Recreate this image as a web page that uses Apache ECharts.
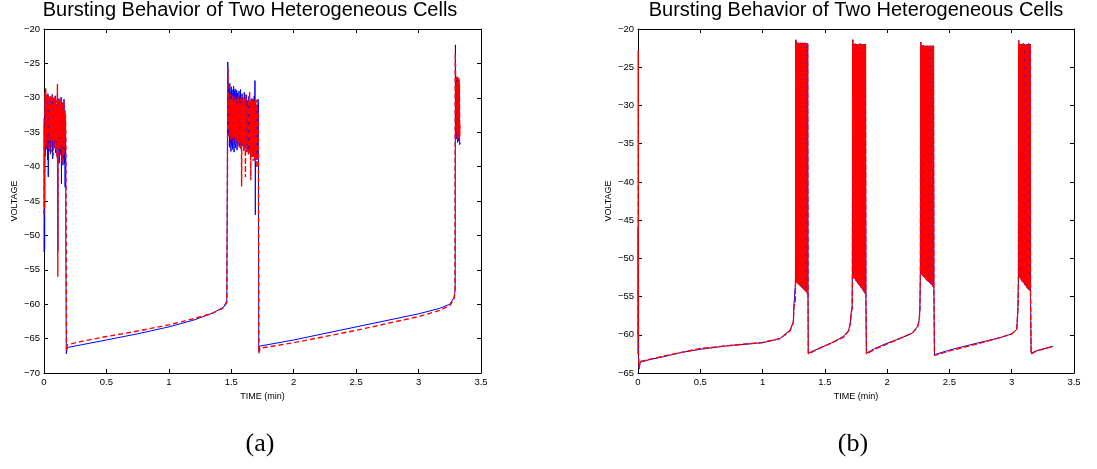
<!DOCTYPE html>
<html lang="en">
<head>
    <meta charset="UTF-8">
    <title>Bursting Behavior of Two Heterogeneous Cells</title>
    <script src="https://cdn.jsdelivr.net/npm/echarts@6/dist/echarts.min.js"></script>
    <style>
        html, body { margin: 0; padding: 0; background: #fff; }
        #main { width: 1097px; height: 469px; }
    </style>
</head>
<body>
<div id="main"></div>
<script type="text/javascript">
  // axis ranges [min, max, interval]
  var xRange = [0, 3.5, 0.5];
  var aYRange = [-70, -20, 5];
  var bYRange = [-65, -20, 5];

  /* ---------- panel (a) ---------- */
  // slow parts [time, voltage]
  var aBlueSlow = [[0, -52.4], [0.175, -51.0], [0.179, -67.2], [0.186, -66.3], [0.3, -65.9], [0.5, -65.2], [0.75, -64.3],
    [1.0, -63.3], [1.2, -62.3], [1.35, -61.3], [1.44, -60.4], [1.464, -59.5], [1.472, -24.8],
    [1.72, -66.9], [1.726, -66.1], [2.0, -65.2], [2.5, -63.3], [3.0, -61.4], [3.17, -60.6], [3.25, -60.0],
    [3.285, -59.0], [3.293, -57.9], [3.295, -22.3], [3.332, -36.5]];
  var aRedSlow = [[0, -47.0], [0.18, -66.8], [0.186, -65.9], [0.3, -65.4], [0.5, -64.7], [0.75, -63.9],
    [1.0, -63.0], [1.2, -62.1], [1.35, -61.3], [1.44, -60.5], [1.465, -59.7], [1.473, -25.5],
    [1.721, -67.2], [1.73, -66.4], [2.0, -65.6], [2.5, -63.8], [3.0, -61.8], [3.17, -60.9], [3.25, -60.2],
    [3.285, -59.2], [3.292, -58.0], [3.294, -23.5], [3.332, -34.0]];
  // burst spans and their upper / lower swings
  var aBurstSpans = [[0.002, 0.172], [1.476, 1.714], [3.297, 3.327]];
  var aBlueHi = [
    [-33, -30.2, -29.6, -31, -30, -29.4, -31.5, -30.3, -29.8, -32, -30.6, -29.5, -31.2, -30, -30.8, -29.7, -32.5, -30.9, -29.4, -31.4, -30.1, -31.8, -30.5, -29.9, -32.2, -30.7, -31.5, -30.2, -31.8, -32.5],
    [-28.2, -28.6, -27.9, -29.1, -28.4, -28.8, -29.5, -28.3, -29.0, -28.7, -29.6, -28.9, -29.3, -30.1, -29.0, -29.7, -28.8, -30.3, -29.4, -29.9, -30.5, -29.2, -30.0, -30.8, -29.6, -30.4, -31.0, -29.8, -30.6, -31.2, -30.1, -30.9, -31.4, -30.3, -29.7, -27.5, -30.8, -31.5, -31.0, -30.2],
    [-22.3, -27.5, -27.0, -27.8, -27.2, -28.0, -27.4, -28.3]
  ];
  var aBlueLo = [
    [-52, -38.5, -36.8, -37.5, -39.0, -41.5, -37.8, -36.5, -38.2, -37, -36.4, -38.9, -37.6, -37.3, -36.6, -38, -37.2, -38.4, -52.3, -37, -39.5, -36.8, -38.3, -42.5, -37.5, -39.8, -38.8, -39.6, -43, -40],
    [-35.5, -37.2, -36.4, -37.8, -36.9, -37.5, -36.2, -37.9, -36.8, -37.3, -36.5, -37.6, -36.9, -36.3, -37.1, -36.6, -37.4, -36.8, -37.0, -36.4, -37.7, -36.9, -37.3, -37.8, -36.9, -37.5, -38.2, -37.4, -37.9, -38.4, -37.6, -38.1, -38.6, -38.0, -39.0, -47.0, -38.5, -39.0, -38.2, -31.0],
    [-33, -36.0, -35.2, -36.5, -35.8, -36.3, -35.5, -36.8]
  ];
  var aRedHi = [
    [-34, -29.2, -28.6, -30.3, -29.5, -30.8, -29.6, -30.2, -31, -29.8, -30.4, -29.5, -31.2, -30, -30.6, -29.9, -31.4, -30.3, -28, -30.9, -30.2, -31.5, -30.4, -29.9, -31.7, -30.8, -31.3, -30.5, -31.9, -32.4],
    [-30.5, -29.8, -30.6, -29.4, -30.9, -30.1, -29.7, -31.0, -30.3, -29.9, -30.7, -30.2, -31.2, -29.8, -30.5, -31.0, -30.1, -30.8, -29.6, -30.4, -31.1, -30.0, -30.7, -29.5, -30.9, -31.3, -30.2, -30.8, -29.0, -31.0, -30.5, -31.4, -30.1, -30.9, -30.4, -30.6, -31.2, -30.3, -31.0, -32.0],
    [-23.5, -27.0, -27.6, -26.9, -27.8, -27.3, -27.1, -28.0]
  ];
  var aRedLo = [
    [-46, -36.8, -35.6, -37.2, -36.1, -35.4, -37.6, -36.3, -35.8, -37.9, -36.5, -35.7, -38.4, -36.9, -36.2, -37.5, -36.4, -38.8, -56, -37.1, -36.5, -38.2, -36.9, -37.6, -39.4, -37, -38.5, -38, -37.2, -36],
    [-34.8, -35.6, -35.1, -36.2, -35.4, -35.9, -36.5, -35.3, -36.0, -36.8, -35.7, -36.4, -37.1, -36.0, -36.7, -37.3, -36.4, -42.9, -37.0, -36.6, -37.6, -36.9, -41.5, -37.3, -38.0, -37.2, -38.4, -37.7, -38.1, -42.0, -37.9, -38.6, -39.2, -38.3, -38.9, -39.5, -38.6, -40.2, -39.0, -38.0],
    [-32, -35.0, -35.8, -34.9, -36.1, -35.4, -35.9, -35.6]
  ];

  /* ---------- panel (b) ---------- */
  var bBlueSlow = [[0, -62.6], [0.0015, -46.0], [0.004, -62.8], [0.008, -64.5], [0.018, -63.6], [0.1, -63.2], [0.2, -62.9],
    [0.35, -62.3], [0.5, -61.9], [0.74, -61.4], [1.0, -61.05], [1.14, -60.5], [1.22, -59.4], [1.247, -58.3],
    [1.252, -56.1], [1.262, -55.9], [1.265, -53.1],
    [1.367, -62.4], [1.45, -61.8], [1.55, -61.1], [1.65, -60.2], [1.69, -59.5], [1.705, -58.4], [1.712, -57.0],
    [1.719, -56.6], [1.721, -52.4],
    [1.834, -62.4], [1.9, -61.8], [2.0, -61.1], [2.1, -60.5], [2.2, -59.8], [2.245, -58.9], [2.258, -58.0],
    [2.263, -56.6], [2.267, -52.0],
    [2.38, -62.6], [2.5, -62.0], [2.72, -61.1], [2.9, -60.4], [3.0, -59.9], [3.04, -59.3], [3.048, -57.3],
    [3.051, -56.0], [3.054, -52.4],
    [3.156, -62.4], [3.2, -62.1], [3.333, -61.5]];
  var bRedSlow = [[0, -60.0], [0.0015, -22.8], [0.004, -62.6], [0.008, -64.3], [0.018, -63.5], [0.1, -63.2], [0.2, -62.8],
    [0.35, -62.3], [0.5, -61.8], [0.74, -61.4], [1.0, -61.0], [1.14, -60.5], [1.22, -59.5], [1.247, -58.4],
    [1.252, -56.2], [1.262, -55.8], [1.265, -53.0],
    [1.367, -62.5], [1.45, -61.8], [1.55, -61.1], [1.65, -60.3], [1.69, -59.5], [1.705, -58.5], [1.712, -57.1],
    [1.719, -56.5], [1.721, -52.5],
    [1.834, -62.5], [1.9, -61.9], [2.0, -61.2], [2.1, -60.5], [2.2, -59.8], [2.245, -59.0], [2.258, -58.0],
    [2.263, -56.5], [2.267, -52.1],
    [2.38, -62.7], [2.5, -62.1], [2.72, -61.2], [2.9, -60.4], [3.0, -59.9], [3.04, -59.3], [3.048, -57.2],
    [3.051, -56.0], [3.054, -52.5],
    [3.156, -62.5], [3.2, -62.1], [3.333, -61.5]];
  var bBurstSpans = [[1.268, 1.362], [1.724, 1.826], [2.27, 2.372], [3.056, 3.148]];
  var bHi = [
    [-21.4, -21.8, -21.9, -21.8, -21.9, -21.9, -21.8, -21.9, -21.9, -21.8, -21.9, -21.9, -21.8, -21.9, -21.9, -21.9],
    [-21.4, -22.0, -22.0, -21.9, -22.0, -22.0, -22.1, -22.0, -22.0, -21.9, -22.0, -22.0, -22.1, -22.0, -22.0, -22.0],
    [-21.7, -22.2, -22.2, -22.1, -22.2, -22.3, -22.2, -22.2, -22.2, -22.3, -22.2, -22.2, -22.3, -22.2, -22.2, -22.2],
    [-21.5, -22.0, -22.0, -22.1, -22.0, -22.0, -21.9, -22.0, -22.0, -22.1, -22.0, -22.0, -22.0, -21.9, -22.0, -22.0]
  ];
  var bLo = [
    [-53.1, -53.2, -53.3, -53.4, -53.5, -53.6, -53.7, -53.8, -53.9, -54.0, -54.1, -54.2, -54.3, -54.4, -54.6, -55.5],
    [-52.4, -52.6, -52.7, -52.9, -53.0, -53.2, -53.3, -53.5, -53.6, -53.8, -53.9, -54.1, -54.2, -54.4, -54.6, -55.3],
    [-52.0, -52.1, -52.3, -52.4, -52.5, -52.6, -52.8, -52.9, -53.0, -53.1, -53.2, -53.3, -53.4, -53.5, -53.7, -54.2],
    [-52.4, -52.5, -52.7, -52.8, -53.0, -53.1, -53.2, -53.4, -53.5, -53.6, -53.8, -53.9, -54.0, -54.1, -54.2, -55.1]
  ];

  /* slow points + burst swings, ordered by time */
  function trace(slow, spans, his, los) {
    var pts = slow.slice();
    for (var k = 0; k < spans.length; k++) {
      var hi = his[k], lo = los[k], n = hi.length;
      var step = (spans[k][1] - spans[k][0]) / (n - 1);
      for (var i = 0; i < n; i++) {
        pts.push([spans[k][0] + i * step, hi[i]]);
        pts.push([spans[k][0] + (i + 0.5) * step, lo[i]]);
      }
    }
    pts.sort(function (p, q) { return p[0] - q[0]; });
    return pts;
  }

  var FONT = '"Liberation Sans", Arial, Helvetica, sans-serif';
  var minus = function (v) { return v < 0 ? '\u2212' + Math.abs(v) : String(v); };

  function xAxis(grid, pos) {
    var main = pos === 'bottom';
    return {
      type: 'value', gridIndex: grid, position: pos,
      min: xRange[0], max: xRange[1], interval: xRange[2],
      axisLine: {show: true, onZero: false, lineStyle: {color: '#000', width: 1}},
      axisTick: {show: true, inside: true, length: 4, lineStyle: {color: '#000'}},
      axisLabel: {show: main, fontSize: 9.5, color: '#000', margin: 4, fontFamily: FONT},
      splitLine: {show: false},
      name: main ? 'TIME (min)' : '', nameLocation: 'middle', nameGap: 17,
      nameTextStyle: {fontSize: 9, color: '#000', fontFamily: FONT}
    };
  }

  function yAxis(grid, pos, range) {
    var main = pos === 'left';
    return {
      type: 'value', gridIndex: grid, position: pos,
      min: range[0], max: range[1], interval: range[2],
      axisLine: {show: true, onZero: false, lineStyle: {color: '#000', width: 1}},
      axisTick: {show: true, inside: true, length: 4, lineStyle: {color: '#000'}},
      axisLabel: {show: main, fontSize: 9.5, color: '#000', margin: 4, fontFamily: FONT, formatter: minus},
      splitLine: {show: false},
      name: main ? 'VOLTAGE' : '', nameLocation: 'middle', nameGap: 25, nameRotate: 90,
      nameTextStyle: {fontSize: 9, color: '#000', fontFamily: FONT}
    };
  }

  function line(name, data, xi, yi, color, width, dash) {
    return {
      name: name, type: 'line', data: data, xAxisIndex: xi, yAxisIndex: yi,
      showSymbol: false, symbol: 'none', sampling: null, clip: true,
      lineStyle: {color: color, width: width, type: dash || 'solid'},
      emphasis: {disabled: true}
    };
  }

  function label(text, x, y, size, family) {
    return {
      type: 'text', x: x, y: y,
      style: {text: text, fontSize: size, fontFamily: family, fill: '#000', align: 'center', verticalAlign: 'top'}
    };
  }

  var myChart = echarts.init(document.getElementById('main'));
  var option = {
    backgroundColor: '#fff',
    animation: false,
    grid: [
      {left: 44, top: 29, width: 437, height: 344},
      {left: 638, top: 29, width: 436, height: 344}
    ],
    xAxis: [xAxis(0, 'bottom'), xAxis(0, 'top'), xAxis(1, 'bottom'), xAxis(1, 'top')],
    yAxis: [yAxis(0, 'left', aYRange), yAxis(0, 'right', aYRange), yAxis(1, 'left', bYRange), yAxis(1, 'right', bYRange)],
    graphic: [
      label('Bursting Behavior of Two Heterogeneous Cells', 250, 0, 20, FONT),
      label('Bursting Behavior of Two Heterogeneous Cells', 856, 0, 20, FONT),
      label('(a)', 260, 431, 26, '"Liberation Serif", "DejaVu Serif", serif'),
      label('(b)', 853, 431, 26, '"Liberation Serif", "DejaVu Serif", serif')
    ],
    series: [
      line('cell 1 (a)', trace(aBlueSlow, aBurstSpans, aBlueHi, aBlueLo), 0, 0, '#0000ff', 1),
      line('cell 2 (a)', trace(aRedSlow, aBurstSpans, aRedHi, aRedLo), 0, 0, '#ff0000', 1.4, [5, 3]),
      line('cell 1 (b)', trace(bBlueSlow, bBurstSpans, bHi, bLo), 2, 2, '#0000ff', 1),
      line('cell 2 (b)', trace(bRedSlow, bBurstSpans, bHi, bLo), 2, 2, '#ff0000', 1.4, [6, 2])
    ]
  };
  myChart.setOption(option);

  window.addEventListener('resize', function () {
    myChart.resize();
  });
</script>
</body>
</html>
